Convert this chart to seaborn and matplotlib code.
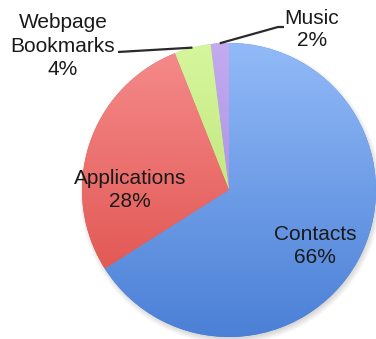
import numpy as np
import matplotlib
matplotlib.use("Agg")
import matplotlib.pyplot as plt
import seaborn as sns
from matplotlib.colors import LinearSegmentedColormap

# Share of synced items by type (percent), drawn counter-clockwise from 12 o'clock
categories = ["Music", "Webpage\nBookmarks", "Applications", "Contacts"]
shares = [2, 4, 28, 66]

# Vertical gradient per slice: colour at the top of the pie, colour at the bottom
top_colors = ["#c3abf0", "#d6f69c", "#f58c8c", "#92baf8"]
bottom_colors = ["#9b7fd9", "#b2da6a", "#dc4a45", "#4b80d6"]

sns.set_theme(style="white")
plt.rcParams["font.family"] = ["Liberation Sans", "DejaVu Sans"]

W, H = 376, 339
fig = plt.figure(figsize=(W / 100, H / 100), dpi=100)
ax = fig.add_axes([0, 0, 1, 1])

cx, cy, r = 229, H - 190, 147

# Soft drop shadow beneath the pie
for k in range(8):
    ax.add_patch(plt.Circle((cx + 1.5, cy - 3), r + 4 - k, color="#000000",
                            alpha=0.025, lw=0, zorder=0))

wedges, _ = ax.pie(shares, startangle=90, counterclock=True,
                   center=(cx, cy), radius=r,
                   colors=bottom_colors,
                   wedgeprops=dict(linewidth=0))

ramp = np.linspace(0, 1, 256).reshape(-1, 1)
for w, c0, c1 in zip(wedges, top_colors, bottom_colors):
    w.set_zorder(1)
    cmap = LinearSegmentedColormap.from_list("g", [c0, c1])
    im = ax.imshow(ramp, cmap=cmap, aspect="auto",
                   extent=(cx - r, cx + r, cy - r, cy + r),
                   origin="upper", zorder=2, interpolation="bilinear")
    im.set_clip_path(w)

# Label placement (pixel offsets from the pie centre, y up) and leader targets
label_pos = {
    "Music": (83, 161),
    "Webpage\nBookmarks": (-166, 144),
    "Applications": (-99, 0),
    "Contacts": (86, -56),
}
label_spacing = {
    "Music": 1.2,
    "Webpage\nBookmarks": 1.3,
    "Applications": 1.28,
    "Contacts": 1.25,
}
leader_end = {
    "Music": [(49, 163), (55, 163)],
    "Webpage\nBookmarks": [(-111, 138)],
}

for w, name, val in zip(wedges, categories, shares):
    dx, dy = label_pos[name]
    ax.text(cx + dx, cy + dy, f"{name}\n{val}%", ha="center", va="center",
            multialignment="center", fontsize=15, color="#1a1a1a",
            linespacing=label_spacing[name], zorder=5)
    if name in leader_end:
        mid = np.deg2rad((w.theta1 + w.theta2) / 2)
        pts = [(cx + r * np.cos(mid), cy + r * np.sin(mid))]
        pts += [(cx + ex, cy + ey) for ex, ey in leader_end[name]]
        xs, ys = zip(*pts)
        ax.plot(xs, ys, color="#2a2a2a", lw=1.6, zorder=4,
                solid_capstyle="butt")

ax.set_xlim(0, W)
ax.set_ylim(0, H)
ax.set_aspect("equal")
ax.axis("off")

fig.savefig("out.png", dpi=100, facecolor="white")
